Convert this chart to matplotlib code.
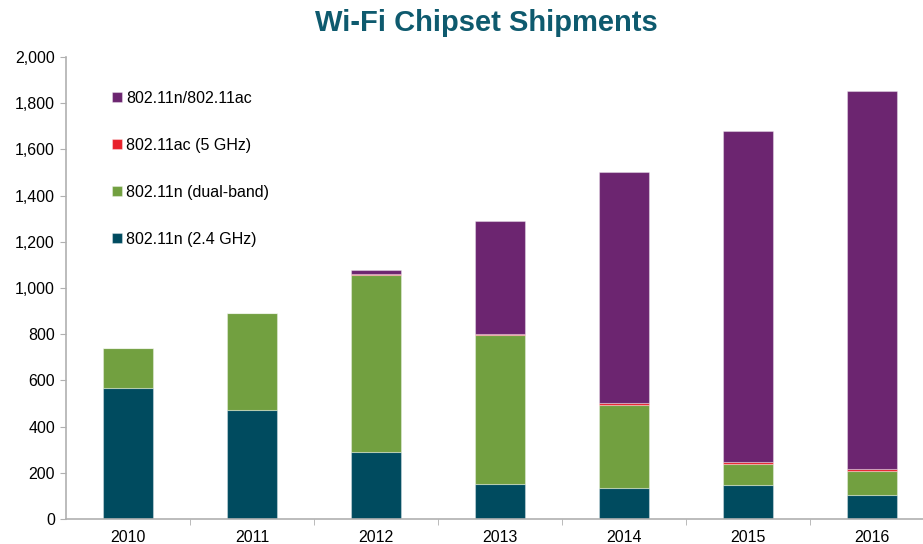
import numpy as np
import matplotlib.pyplot as plt
from matplotlib.ticker import FuncFormatter

plt.rcParams['font.family'] = ['Liberation Sans', 'DejaVu Sans']

years = ['2010', '2011', '2012', '2013', '2014', '2015', '2016']
n24 = [566, 473, 289, 152, 133, 147, 104]
n_dual = [173, 419, 766, 643, 361, 92, 104]
ac5 = [0, 0, 5, 5, 8, 9, 7]
n_ac = [0, 0, 16, 489, 1000, 1432, 1638]

labels = ['802.11n (2.4 GHz)', '802.11n (dual-band)', '802.11ac (5 GHz)', '802.11n/802.11ac']
colors = ['#004B5F', '#72A040', '#E8202A', '#6C2570']

fig = plt.figure(figsize=(9.23, 5.44), dpi=100)
ax = fig.add_axes([66/923, 1 - 519/544, 868/923, (519 - 57)/544])

x = np.arange(len(years))
bottom = np.zeros(len(years))
handles = []
for vals, lab, col in zip([n24, n_dual, ac5, n_ac], labels, colors):
    b = ax.bar(x, vals, width=0.4, bottom=bottom, color=col, label=lab,
               edgecolor=(1, 1, 1, 0.35), linewidth=0.8)
    handles.append(b)
    bottom += np.array(vals)

ax.set_xlim(-0.5, len(years) - 0.5)
ax.set_ylim(0, 2000)
ax.set_yticks(np.arange(0, 2001, 200))
ax.yaxis.set_major_formatter(FuncFormatter(lambda v, p: f'{int(v):,}'))
ax.set_xticks(x)
ax.set_xticklabels(years)
ax.set_xticks(np.arange(0.5, len(years) - 0.5, 1), minor=True)
ax.tick_params(axis='x', which='major', length=0, pad=8, labelsize=11.5)
ax.tick_params(axis='x', which='minor', length=4, color='#B0B0B0')
ax.tick_params(axis='y', length=4, color='#B0B0B0', labelsize=11.5, pad=4)

for s in ['top', 'right']:
    ax.spines[s].set_visible(False)
for s in ['left', 'bottom']:
    ax.spines[s].set_color('#B0B0B0')
    ax.spines[s].set_linewidth(1.2)

leg = ax.legend(handles[::-1], labels[::-1], loc='upper left',
                bbox_to_anchor=(0.036, 0.958), frameon=False, fontsize=11.5,
                labelspacing=2.0, handlelength=0.65, handleheight=0.65,
                handletextpad=0.25)

fig.text(486/923, 1 - 23/544, 'Wi-Fi Chipset Shipments', ha='center', va='center',
         fontsize=21, fontweight='bold', color='#0E5A6E')

fig.savefig('out.png', dpi=100)
